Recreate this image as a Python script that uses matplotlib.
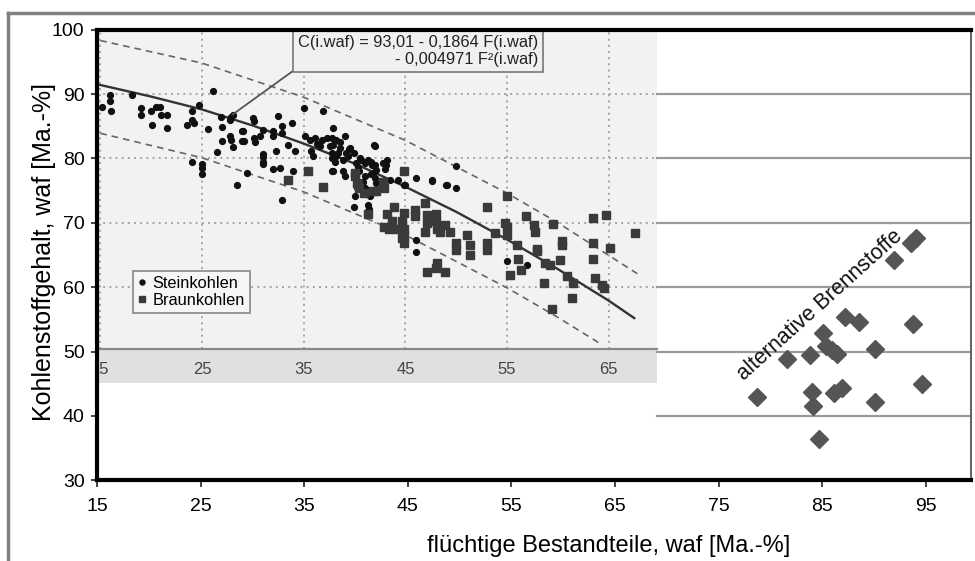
import matplotlib
matplotlib.use("Agg")
import matplotlib.pyplot as plt
from matplotlib.lines import Line2D
from matplotlib.patches import Rectangle
from matplotlib.transforms import Bbox, blended_transform_factory

plt.rcParams['font.family'] = ['Liberation Sans', 'DejaVu Sans']

# ---------------- data ----------------
main_xticks = [15, 25, 35, 45, 55, 65, 75, 85, 95]
main_yticks = [30, 40, 50, 60, 70, 80, 90, 100]
main_grid_y = [40, 50, 60, 70, 80, 90]
inset_xticks = [15, 25, 35, 45, 55, 65]
inset_xticklabels = ["15", "25", "35", "45", "55", "65"]
inset_yticks = [60, 70, 80, 90]

stein_x = [16.0, 16.0, 16.1, 15.2, 18.1, 19.0, 19.0, 20.0, 20.5, 20.9, 20.1, 21.0, 21.6, 21.6,
           23.5, 24.0, 24.0, 24.2, 24.7, 26.1, 24.0, 25.0, 25.0, 25.0, 25.6, 26.5, 26.9, 27.0,
           27.8, 27.9, 28.1, 27.8, 27.9, 27.0, 28.1, 28.9, 28.9, 28.4, 30.0, 30.1, 32.5, 29.0,
           31.0, 30.1, 30.2, 29.1, 30.7, 32.0, 32.0, 32.9, 32.9, 33.9, 32.3, 33.5, 34.1, 31.0,
           31.0, 32.0, 32.7, 34.0, 29.4, 32.9, 35.0, 36.9, 37.9, 35.1, 35.6, 36.1, 36.8, 37.3,
           37.8, 38.2, 38.6, 39.1, 36.3, 35.7, 35.9, 36.6, 37.6, 37.8, 38.4, 38.6, 39.6, 39.9,
           37.8, 38.1, 38.9, 39.4, 40.1, 40.6, 41.0, 41.3, 41.6, 42.0, 42.1, 42.0, 43.1, 43.2,
           40.3, 40.4, 41.0, 41.6, 42.0, 38.9, 39.1, 37.8, 40.8, 41.0, 41.2, 41.5, 41.3, 40.0,
           42.1, 37.9, 39.5, 38.2, 39.2, 40.5, 41.7, 41.8, 41.9, 37.9, 42.8, 43.0, 43.5, 44.3,
           44.9, 46.0, 47.6, 49.0, 50.0, 50.0, 39.9, 41.2, 41.4, 46.0, 55.0, 57.0, 47.6, 49.1,
           46.0, 45.0, 31.0, 31.0, 53.9]
stein_y = [89.9, 88.9, 87.3, 88.0, 89.9, 87.8, 86.8, 87.3, 88.0, 88.0, 85.2, 86.8, 86.8, 84.7,
           85.2, 87.3, 86.0, 85.5, 88.3, 90.5, 79.5, 79.2, 78.5, 77.6, 84.6, 81.0, 86.5, 84.9,
           85.9, 86.5, 86.8, 83.4, 82.9, 82.7, 81.8, 84.2, 82.7, 75.9, 86.2, 85.8, 86.6, 84.3,
           84.4, 83.1, 82.6, 82.7, 83.4, 84.2, 83.4, 85.1, 83.9, 85.5, 81.2, 82.1, 81.1, 80.7,
           79.5, 78.4, 78.5, 78.0, 77.7, 73.6, 87.8, 87.4, 84.7, 83.4, 82.9, 83.1, 82.9, 83.1,
           83.1, 82.9, 82.6, 83.4, 82.3, 81.2, 80.4, 81.9, 81.9, 80.8, 80.8, 81.6, 81.6, 80.8,
           80.0, 79.5, 79.8, 80.3, 79.3, 79.8, 79.3, 79.8, 79.5, 79.0, 78.2, 81.9, 79.0, 79.8,
           78.7, 78.0, 77.2, 77.5, 77.0, 78.0, 77.2, 78.0, 76.4, 75.4, 74.6, 74.1, 72.8, 74.1,
           76.2, 82.1, 81.4, 80.3, 80.8, 80.0, 79.0, 77.7, 82.1, 78.0, 79.3, 78.3, 76.7, 76.7,
           75.9, 77.0, 76.5, 75.9, 75.4, 78.8, 72.5, 71.7, 72.2, 65.4, 64.0, 63.4, 76.6, 75.9,
           67.3, 75.9, 80.2, 79.2, 68.6]

braun_x = [33.5, 35.4, 36.9, 40.0, 40.3, 40.4, 42.1, 42.9, 41.3, 43.2, 40.0, 40.2, 40.9, 41.8,
           42.8, 44.9, 43.9, 44.9, 45.9, 45.9, 46.9, 47.1, 43.7, 42.9, 43.4, 44.1, 44.7, 44.9,
           44.9, 44.9, 44.7, 47.1, 46.9, 48.0, 48.1, 48.4, 48.9, 49.4, 48.0, 50.0, 50.0, 51.1,
           51.4, 48.1, 48.0, 47.1, 48.9, 55.0, 53.0, 54.8, 55.0, 55.0, 53.8, 51.4, 53.0, 53.0,
           56.0, 56.1, 56.9, 57.6, 57.7, 57.9, 57.9, 59.5, 60.4, 60.4, 60.2, 58.7, 59.2, 55.3,
           56.4, 58.6, 60.9, 61.5, 61.4, 59.4, 63.4, 63.4, 63.4, 63.6, 64.7, 64.3, 64.5, 65.1,
           67.6]
braun_y = [76.6, 78.0, 75.5, 77.2, 75.9, 75.4, 74.9, 75.4, 71.3, 71.3, 77.7, 76.2, 74.6, 74.9,
           76.4, 78.0, 72.4, 71.5, 72.0, 71.0, 73.1, 71.2, 70.2, 69.4, 69.1, 69.0, 70.2, 69.1,
           68.1, 66.8, 67.6, 70.0, 68.6, 70.2, 69.1, 68.6, 69.6, 68.6, 71.4, 66.8, 65.8, 68.1,
           65.0, 63.8, 63.0, 62.3, 62.3, 74.1, 72.5, 70.0, 69.4, 68.1, 68.4, 66.6, 66.8, 65.8,
           66.6, 64.4, 71.1, 69.7, 68.5, 66.0, 65.6, 69.8, 67.1, 66.6, 64.2, 63.7, 63.4, 61.9,
           62.6, 60.6, 61.7, 60.7, 58.3, 56.6, 70.7, 66.9, 64.3, 61.4, 71.2, 60.3, 59.8, 66.1,
           68.4]

curve_x = [15, 20, 25, 30, 35, 40, 45, 50, 55, 60, 65, 67.5]
curve_y = [91.4, 89.6, 87.6, 85.1, 82.3, 79.2, 75.6, 71.7, 67.4, 62.8, 57.9, 55.2]
upper_x = [15, 25, 35, 45, 55, 60, 67.8]
upper_y = [98.3, 94.8, 89.5, 82.8, 74.6, 70.0, 62.1]
lower_x = [15, 25, 35, 45, 55, 60, 64.4]
lower_y = [83.9, 80.1, 74.8, 68.1, 59.9, 55.3, 51.0]

alt_x = [94.1, 93.6, 91.9, 87.2, 88.6, 93.8, 85.1, 85.4, 85.9, 86.4, 81.6, 83.8, 90.1,
         78.7, 84.0, 84.1, 86.1, 86.9, 90.1, 94.6, 84.7]
alt_y = [67.6, 66.8, 64.2, 55.4, 54.6, 54.3, 52.9, 50.9, 50.2, 49.6, 48.8, 49.5, 50.4,
         42.9, 43.7, 41.6, 43.5, 44.3, 42.1, 44.9, 36.4]

equation = "C(i.waf) = 93,01 - 0,1864 F(i.waf)\n- 0,004971 F\u00b2(i.waf)"
eq_point = (28.0, 86.8)

# ---------------- layout ----------------
W, H = 975, 561
fig = plt.figure(figsize=(W / 100, H / 100), dpi=100)
fig.patch.set_facecolor('white')

def fx(px):
    return px / W

def fy(py):
    return 1 - py / H

# outer grey frame
fig.add_artist(Line2D([fx(8), fx(8)], [fy(12.5), 0], transform=fig.transFigure,
                      color='#808080', lw=2.5))
fig.add_artist(Line2D([fx(8), 1], [fy(12.5), fy(12.5)], transform=fig.transFigure,
                      color='#808080', lw=2.5))

# grey strip below inset
strip = Rectangle((fx(97), fy(383)), fx(657) - fx(97), fy(349) - fy(383),
                  transform=fig.transFigure, facecolor='#e0e0e0', edgecolor='none', zorder=0.5)
fig.add_artist(strip)

# inset axes (scanned diagram)
L_in, R_in, T_in, B_in = 97, 657, 29.6, 349
ax_in = fig.add_axes([fx(L_in), fy(B_in), fx(R_in) - fx(L_in), fy(T_in) - fy(B_in)], zorder=1)
ax_in.set_facecolor('#f2f2f2')
ax_in.set_xlim(14.68, 69.74)
ax_in.set_ylim(50.4, 100)
ax_in.set_xticks(inset_xticks)
ax_in.set_yticks(inset_yticks)
ax_in.tick_params(length=0, labelbottom=False, labelleft=False)
ax_in.grid(True, color='#9a9a9a', lw=1.2, ls=(0, (1.2, 2.5)))
ax_in.set_axisbelow(True)
for s in ['top', 'left', 'right']:
    ax_in.spines[s].set_visible(False)
ax_in.spines['bottom'].set_color('#8a8a8a')
ax_in.spines['bottom'].set_linewidth(1.6)

ax_in.plot(upper_x, upper_y, color='#666666', lw=1.2, ls=(0, (4, 3)))
ax_in.plot(lower_x, lower_y, color='#666666', lw=1.2, ls=(0, (4, 3)))
ax_in.plot(curve_x, curve_y, color='#333333', lw=1.7)
ax_in.plot(stein_x, stein_y, 'o', ls='none', ms=4.2, color='#111111', label='Steinkohlen')
ax_in.plot(braun_x, braun_y, 's', ls='none', ms=5.3, color='#3a3a3a', label='Braunkohlen')

leg = ax_in.legend(loc='lower left', bbox_to_anchor=(0.064, 0.113), borderaxespad=0,
                   fontsize=11.8, frameon=True, fancybox=False, edgecolor='#888888',
                   facecolor='#f6f6f6', framealpha=1, handlelength=0.5, handletextpad=0.4,
                   borderpad=0.3, labelspacing=0.15, markerscale=0.85)
leg.get_frame().set_linewidth(1.2)

# inset tick labels in the strip (left one clipped like the scan)
clipbox = Bbox.from_extents(L_in + 1, H - 383, R_in, H - 349)
trans = blended_transform_factory(ax_in.transData, ax_in.transAxes)
for v, lab in zip(inset_xticks, inset_xticklabels):
    t = ax_in.text(v, (B_in - 370) / (B_in - T_in), lab, transform=trans, ha='center',
                   va='center', fontsize=12, color='#444444')
    t.set_clip_on(True)
    t.set_clip_box(clipbox)

ax_in.annotate(equation, xy=eq_point, xycoords='data',
               xytext=(538, H - 35), textcoords='figure pixels',
               ha='right', va='top', multialignment='right', fontsize=11.8, color='#222222',
               bbox=dict(boxstyle='square,pad=0.3', fc='#f0f0f0', ec='#777777', lw=1.2),
               arrowprops=dict(arrowstyle='-', color='#555555', lw=1.3, relpos=(0, 0),
                               shrinkA=0, shrinkB=0))

# main axes
L, R, T, B = 97, 971, 29.6, 480.4
ax = fig.add_axes([fx(L), fy(B), fx(R) - fx(L), fy(T) - fy(B)], zorder=3)
ax.patch.set_visible(False)
ax.set_xlim(15, 15 + (R - L) / 10.36)
ax.set_ylim(30, 100)
ax.set_xticks(main_xticks)
ax.set_yticks(main_yticks)
ax.tick_params(axis='both', labelsize=14, direction='out', width=1.2, color='#222222')
ax.tick_params(axis='x', length=5, pad=8)
ax.tick_params(axis='y', length=4, pad=5)
for s in ['left', 'bottom', 'top']:
    ax.spines[s].set_linewidth(3)
    ax.spines[s].set_color('black')
ax.spines['right'].set_linewidth(1.3)
ax.spines['right'].set_color('#555555')

inset_frac = (R_in - L) / (R - L)
for gy in main_grid_y:
    ax.axhline(gy, xmin=inset_frac, xmax=1, color='#9a9a9a', lw=1.6, zorder=1)

ax.plot(alt_x, alt_y, 'D', ls='none', ms=9.5, color='#555555', zorder=4)
ax.text(84.8, 57.2, 'alternative Brennstoffe', rotation=42, rotation_mode='anchor',
        ha='center', va='center', fontsize=15.5, color='#111111', zorder=5)

ax.set_xlabel('flüchtige Bestandteile, waf [Ma.-%]', fontsize=17)
ax.xaxis.set_label_coords((609 - L) / (R - L), (B - 546) / (B - T))
ax.xaxis.label.set_va('center')
ax.set_ylabel('Kohlenstoffgehalt, waf [Ma.-%]', fontsize=18)
ax.yaxis.set_label_coords((44 - L) / (R - L), (B - 252) / (B - T))
ax.yaxis.label.set_va('center')

fig.savefig('out.png', dpi=100)
